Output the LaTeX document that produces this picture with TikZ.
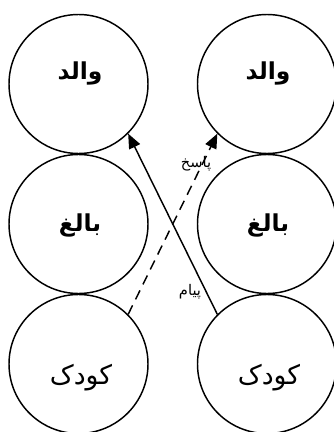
\documentclass[tikz,border=0pt]{standalone}
\usepackage{fontspec}
\TeXXeTstate=1
\newfontfamily\arabicfont[Script=Arabic]{DejaVu Sans}
\usetikzlibrary{arrows.meta}
\begin{document}
\begin{tikzpicture}[x=0.75pt,y=-0.75pt,
  person/.style={circle,draw,line width=1.1pt,minimum size=104.25pt,inner sep=0pt},
  boldlbl/.style={font=\arabicfont\bfseries\fontsize{17.5}{20}\selectfont},
  kidlbl/.style={font=\arabicfont\fontsize{20}{23}\selectfont},
  msg/.style={font=\arabicfont\fontsize{11}{13}\selectfont},
  arr/.style={line width=1.1pt,-{Triangle[length=11pt,width=9pt]}}]
\useasboundingbox (0,0) rectangle (334,432);
\node[person] (pl) at (78.5,84) {};
\node[person] (al) at (78.5,224) {};
\node[person] (kl) at (78.5,364) {};
\node[person] (pr) at (267,84) {};
\node[person] (ar) at (267,224) {};
\node[person] (kr) at (267,364) {};
\node[boldlbl] (tpl) at (80,73) {\beginR والد\endR};
\node[boldlbl] (tpr) at (268,73) {\beginR والد\endR};
\node[boldlbl] (tal) at (80,225) {\beginR بالغ\endR};
\node[boldlbl] (tar) at (268,225) {\beginR بالغ\endR};
\node[kidlbl] (tkl) at (81,378) {\beginR کودک\endR};
\node[kidlbl] (tkr) at (269,378) {\beginR کودک\endR};
\draw[arr] (kr.135) -- (pl.-45);
\draw[arr,dashed,dash pattern=on 7.5pt off 5pt] (kl.45) -- (pr.225);
\node[msg] (lp) at (196,164) {\beginR پاسخ\endR};
\node[msg] (lm) at (190,292) {\beginR پیام\endR};
\end{tikzpicture}
\end{document}
